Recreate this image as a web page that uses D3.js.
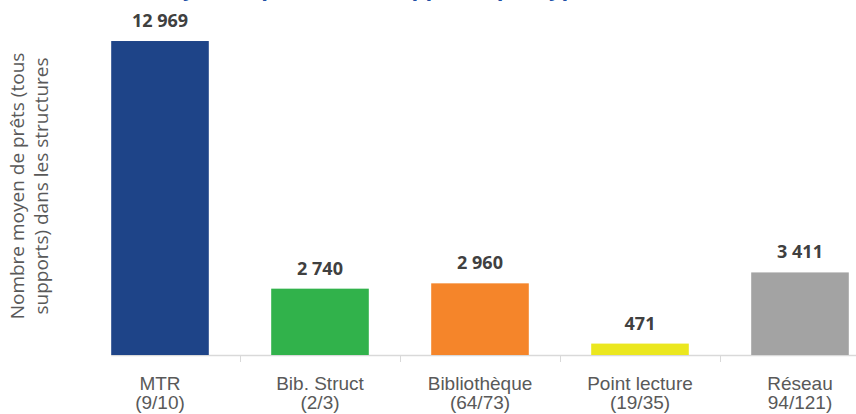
<!DOCTYPE html>
<html>
<head>
<meta charset="utf-8">
<script src="https://cdn.jsdelivr.net/npm/d3@7"></script>
<style>
  html, body { margin: 0; padding: 0; background: #fff; overflow: hidden; }
</style>
</head>
<body>
<div id="chart"></div>
<script>
// chart data
var categories = ["MTR", "Bib. Struct", "Bibliothèque", "Point lecture", "Réseau"];
var subLabels = ["(9/10)", "(2/3)", "(64/73)", "(19/35)", "94/121)"];
var values = [12969, 2740, 2960, 471, 3411];
var title = "Nombre moyen de prêts (tous supports) par type de structure";
var yTitle = ["Nombre moyen de prêts (tous", "supports) dans les structures"];

var width = 856;
var height = 414;
var baseY = 355;

var svg = d3.select("#chart")
    .append("svg")
    .attr("width", width)
    .attr("height", height);

var x = d3.scaleBand()
    .domain(categories)
    .range([80, 880])
    .paddingInner(0.39)
    .paddingOuter(0.195);

var y = d3.scaleLinear()
    .domain([0, 14000])
    .range([baseY, baseY - 14000 * 0.02421]);

var color = d3.scaleOrdinal()
    .domain(categories)
    .range(["#1E4488", "#31B24B", "#F5852A", "#EBE71F", "#A3A3A3"]);

// title, mostly above the top edge (only descenders visible, as in the original)
svg.append("text")
    .attr("x", 52)
    .attr("y", -4.5)
    .attr("text-anchor", "start")
    .style("font-family", "'Open Sans', sans-serif")
    .style("font-weight", "bold")
    .style("font-size", "22px")
    .style("fill", "#2150A6")
    .text(title);

// baseline + separators
svg.append("line")
    .attr("x1", x(categories[0]))
    .attr("x2", width)
    .attr("y1", baseY + 0.5)
    .attr("y2", baseY + 0.5)
    .style("stroke", "#D9D9D9")
    .style("stroke-width", 1.5);

categories.slice(1).forEach(function (c) {
    var sx = Math.round(x(c) - x.step() * x.paddingInner() / 2) + 0.5;
    svg.append("line")
        .attr("x1", sx).attr("x2", sx)
        .attr("y1", baseY).attr("y2", baseY + 7)
        .style("stroke", "#D9D9D9")
        .style("stroke-width", 1);
});

// bars
svg.selectAll("rect.bar")
    .data(values)
    .enter()
    .append("rect")
    .attr("class", "bar")
    .attr("x", function (d, i) { return x(categories[i]); })
    .attr("width", x.bandwidth())
    .attr("y", function (d) { return y(d); })
    .attr("height", function (d) { return y(0) - y(d); })
    .style("fill", function (d, i) { return color(categories[i]); });

// value labels
svg.selectAll("text.val")
    .data(values)
    .enter()
    .append("text")
    .attr("class", "val")
    .attr("x", function (d, i) { return x(categories[i]) + x.bandwidth() / 2; })
    .attr("y", function (d) { return y(d) - 14; })
    .attr("text-anchor", "middle")
    .style("font-family", "'Open Sans', sans-serif")
    .style("font-weight", "bold")
    .style("font-size", "18px")
    .style("fill", "#404040")
    .text(function (d) { return d3.format(",")(d).replace(/,/g, " "); });

// category labels
var catG = svg.selectAll("g.cat")
    .data(categories)
    .enter()
    .append("g")
    .attr("class", "cat")
    .attr("transform", function (d) {
        return "translate(" + (x(d) + x.bandwidth() / 2) + ",0)";
    });

catG.append("text")
    .attr("y", 390)
    .attr("text-anchor", "middle")
    .style("font-family", "'Liberation Sans Narrow', 'Arial Narrow', sans-serif")
    .style("font-size", "19px")
    .style("fill", "#595959")
    .text(function (d) { return d; });

catG.append("text")
    .attr("y", 409)
    .attr("text-anchor", "middle")
    .style("font-family", "'Liberation Sans Narrow', 'Arial Narrow', sans-serif")
    .style("font-size", "19px")
    .style("fill", "#595959")
    .text(function (d, i) { return subLabels[i]; });

// y axis title
var yt = svg.append("text")
    .attr("transform", "translate(0,186) rotate(-90)")
    .attr("text-anchor", "middle")
    .style("font-family", "'Open Sans', sans-serif")
    .style("font-size", "19px")
    .style("fill", "#595959");

yt.selectAll("tspan")
    .data(yTitle)
    .enter()
    .append("tspan")
    .attr("x", 0)
    .attr("y", function (d, i) { return 24 + i * 24; })
    .text(function (d) { return d; });
</script>
</body>
</html>
